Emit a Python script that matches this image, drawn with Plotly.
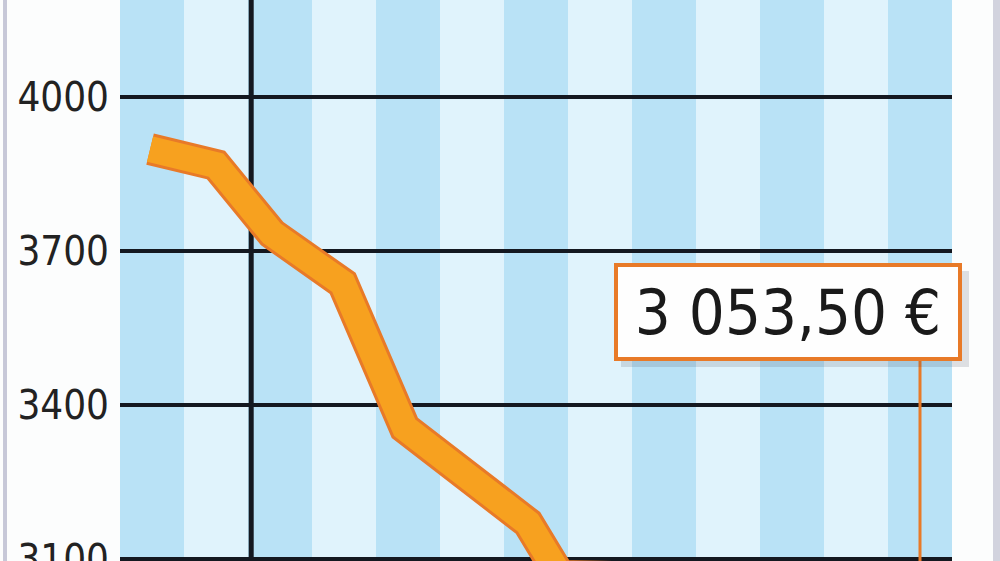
import plotly.graph_objects as go

# price path (x in stripe units, 13 stripes across the plot)
x_pos = [0.47, 1.5, 2.375, 3.48, 4.45, 6.375, 6.875, 12.5]
price = [3898, 3867, 3734, 3637, 3356, 3171, 3068, 3053.5]

y_ticks = [3100, 3400, 3700, 4000]
n_stripes = 13
divider_x = 2.05

last_label = "3 053,50 €"
label_x = 10.44
label_y = 3582
connector_top = 3487

font_fam = "Liberation Sans Narrow, DejaVu Sans Condensed, Arial Narrow, sans-serif"
orange_dark = "#e87a28"
orange_fill = "#f7a11f"

fig = go.Figure()

# outline + fill of the thick line
fig.add_trace(go.Scatter(x=x_pos, y=price, mode="lines",
                         line=dict(color=orange_dark, width=32), hoverinfo="skip"))
fig.add_trace(go.Scatter(x=x_pos, y=price, mode="lines",
                         line=dict(color=orange_fill, width=26), hoverinfo="skip"))

# connector from last value up to the label
fig.add_trace(go.Scatter(x=[x_pos[-1], x_pos[-1]], y=[price[-1], connector_top],
                         mode="lines", line=dict(color=orange_dark, width=3),
                         hoverinfo="skip"))

shapes = []
for i in range(0, n_stripes, 2):
    shapes.append(dict(type="rect", xref="x", yref="paper", x0=i, x1=i + 1, y0=0, y1=1,
                       fillcolor="#b9e2f6", line_width=0, layer="below"))
shapes.append(dict(type="line", xref="x", yref="paper", x0=divider_x, x1=divider_x,
                   y0=0, y1=1, line=dict(color="#141820", width=5), layer="below"))
# thin grey frame lines at the page edges
shapes.append(dict(type="rect", xref="paper", yref="paper", x0=-0.1406, x1=-0.1358,
                   y0=0, y1=1, fillcolor="#c7c8d8", line_width=0))
shapes.append(dict(type="rect", xref="paper", yref="paper", x0=1.0493, x1=1.06,
                   y0=0, y1=1, fillcolor="#d2d3de", line_width=0))

annotations = [
    # soft shadow behind the label box
    dict(x=label_x, y=label_y, xref="x", yref="y", text=" ", showarrow=False,
         xshift=7, yshift=-7, width=346, height=94,
         bgcolor="rgba(60,70,90,0.16)", borderwidth=0),
    dict(x=label_x, y=label_y, xref="x", yref="y", text=last_label, showarrow=False,
         width=338, height=88, bgcolor="#fefefe", bordercolor=orange_dark,
         borderwidth=4, font=dict(family=font_fam, size=63, color="#1a1a1a")),
]

fig.update_layout(
    width=1000, height=561,
    margin=dict(l=120, r=48, t=0, b=0),
    paper_bgcolor="#fcfdfd",
    plot_bgcolor="#e0f3fc",
    showlegend=False,
    shapes=shapes,
    annotations=annotations,
    xaxis=dict(range=[0, n_stripes], showgrid=False, zeroline=False,
               showticklabels=False, fixedrange=True, automargin=False),
    yaxis=dict(range=[3097, 4188], tickvals=y_ticks, ticktext=[str(v) for v in y_ticks],
               showgrid=True, gridcolor="#141820", gridwidth=4, zeroline=False,
               ticks="", ticklabelstandoff=10, ticklabeloverflow="allow",
               automargin=False,
               tickfont=dict(family=font_fam, size=40, color="#222222")),
)

fig.write_html("out.html", config={"displayModeBar": False},
               post_script="document.body.style.margin='0';")
